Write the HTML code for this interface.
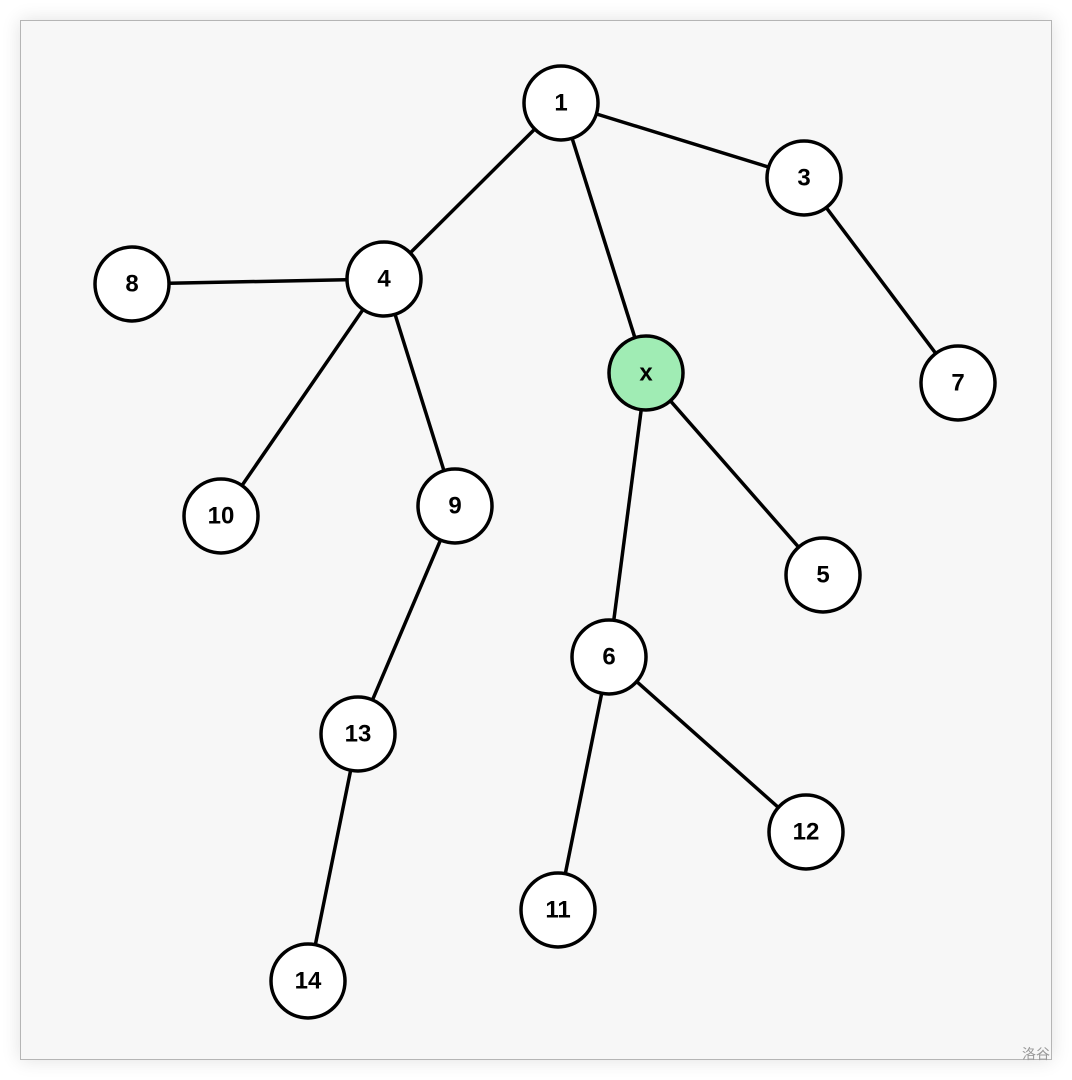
<!DOCTYPE html>
<html><head><meta charset="utf-8"><style>
html,body{margin:0;padding:0;background:#fff;width:1072px;height:1080px;overflow:hidden}
.frame{position:absolute;left:20px;top:20px;width:1030px;height:1038px;background:#f7f7f7;border:1px solid #b5b5b5;box-shadow:0 0 18px rgba(0,0,0,0.12)}
svg{position:absolute;left:0;top:0}
text{font-family:"Liberation Sans",sans-serif;font-weight:bold;font-size:24px;text-anchor:middle;dominant-baseline:central}
.wm{position:absolute;left:1022px;top:1044px;font-family:"Liberation Sans","Noto Sans CJK SC",sans-serif;font-size:14px;color:#999}
</style></head><body>
<div class="frame"></div>
<svg width="1072" height="1080">
<g stroke="#000" stroke-width="3.5">
<line x1="561" y1="103" x2="384" y2="279"/>
<line x1="561" y1="103" x2="646" y2="373"/>
<line x1="561" y1="103" x2="804" y2="178"/>
<line x1="804" y1="178" x2="958" y2="383"/>
<line x1="384" y1="279" x2="132" y2="284"/>
<line x1="384" y1="279" x2="221" y2="516"/>
<line x1="384" y1="279" x2="455" y2="506"/>
<line x1="455" y1="506" x2="358" y2="734"/>
<line x1="358" y1="734" x2="308" y2="981"/>
<line x1="646" y1="373" x2="609" y2="657"/>
<line x1="646" y1="373" x2="823" y2="575"/>
<line x1="609" y1="657" x2="558" y2="910"/>
<line x1="609" y1="657" x2="806" y2="832"/>
</g>
<g stroke="#000" stroke-width="3.5" fill="#fff">
<circle cx="561" cy="103" r="37"/>
<circle cx="804" cy="178" r="37"/>
<circle cx="384" cy="279" r="37"/>
<circle cx="132" cy="284" r="37"/>
<circle cx="646" cy="373" r="37" fill="#a0ecb4"/>
<circle cx="958" cy="383" r="37"/>
<circle cx="221" cy="516" r="37"/>
<circle cx="455" cy="506" r="37"/>
<circle cx="823" cy="575" r="37"/>
<circle cx="609" cy="657" r="37"/>
<circle cx="358" cy="734" r="37"/>
<circle cx="806" cy="832" r="37"/>
<circle cx="558" cy="910" r="37"/>
<circle cx="308" cy="981" r="37"/>
</g>
<g fill="#000">
<text x="561" y="103">1</text>
<text x="804" y="178">3</text>
<text x="384" y="279">4</text>
<text x="132" y="284">8</text>
<text x="646" y="373">x</text>
<text x="958" y="383">7</text>
<text x="221" y="516">10</text>
<text x="455" y="506">9</text>
<text x="823" y="575">5</text>
<text x="609" y="657">6</text>
<text x="358" y="734">13</text>
<text x="806" y="832">12</text>
<text x="558" y="910">11</text>
<text x="308" y="981">14</text>
</g>
</svg>
<div class="wm">洛谷</div>
</body></html>
